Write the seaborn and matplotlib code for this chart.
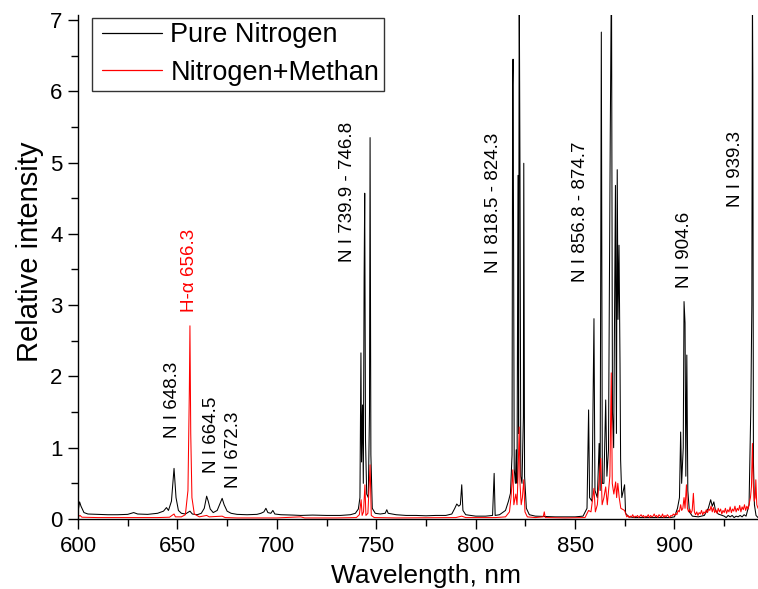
import matplotlib
matplotlib.use("Agg")
import matplotlib.pyplot as plt
from matplotlib.ticker import MultipleLocator
from matplotlib.lines import Line2D
from matplotlib.legend_handler import HandlerLine2D
import seaborn as sns
import pandas as pd

# Emission spectrum, pure nitrogen discharge (wavelength nm, relative intensity)
n2_wl = [
    600.0, 600.8, 601.5, 603.0, 605.0, 610.0, 615.0, 620.0, 625.0, 628.0, 630.0, 635.0,
    640.0, 643.0, 644.5, 645.5, 647.0, 648.3, 649.3, 650.5, 652.0, 654.0, 656.3, 657.5,
    660.0, 662.0, 663.5, 664.7, 665.5, 666.5, 668.0, 670.0, 671.5, 672.5, 673.5, 675.0,
    677.0, 680.0, 685.0, 690.0, 692.0, 693.5, 694.5, 695.5, 697.0, 698.0, 699.0, 702.0,
    708.0, 712.0, 718.0, 725.0, 732.0, 737.0, 739.5, 741.0, 741.8, 742.3, 742.6, 743.1,
    743.5, 743.9, 744.2, 744.6, 745.2, 746.0, 746.6, 746.9, 747.3, 748.0, 749.5, 752.0,
    754.5, 755.3, 756.0, 758.0, 760.0, 765.0, 770.0, 775.0, 780.0, 785.0, 788.0, 789.5,
    790.5, 791.5, 792.3, 793.0, 793.6, 795.0, 800.0, 805.0, 808.5, 809.3, 809.8, 812.0,
    815.0, 816.5, 817.5, 818.3, 818.6, 818.8, 819.4, 820.0, 820.4, 820.8, 821.3, 821.6,
    821.9, 822.3, 822.7, 823.3, 824.0, 824.2, 824.6, 825.5, 827.0, 830.0, 835.0, 840.0,
    845.0, 850.0, 854.0, 856.0, 856.8, 857.3, 858.5, 859.5, 860.0, 861.2, 862.1, 862.6,
    863.2, 863.7, 864.5, 865.4, 866.0, 866.8, 867.7, 868.3, 868.8, 869.4, 870.3, 870.8,
    871.2, 871.6, 872.1, 872.6, 872.9, 873.5, 874.9, 875.4, 877.0, 880.0, 890.0, 898.0,
    900.0, 901.5, 902.5, 903.1, 903.6, 904.4, 904.8, 905.3, 905.7, 906.2, 906.7, 907.5,
    909.0, 912.0, 915.0, 917.0, 918.2, 919.0, 919.8, 920.6, 922.0, 925.0, 926.0, 927.0,
    928.0, 929.0, 930.0, 931.0, 932.0, 933.0, 934.0, 935.0, 936.0, 937.5, 938.4, 938.9,
    939.2, 939.4, 939.7, 940.2, 941.0, 942.0,
]
n2_int = [
    0.10, 0.24, 0.18, 0.09, 0.07, 0.065, 0.06, 0.06, 0.065, 0.09, 0.07, 0.065,
    0.08, 0.11, 0.16, 0.12, 0.25, 0.71, 0.30, 0.12, 0.08, 0.07, 0.11, 0.07,
    0.06, 0.08, 0.15, 0.32, 0.25, 0.14, 0.09, 0.12, 0.22, 0.29, 0.20, 0.11,
    0.08, 0.065, 0.06, 0.065, 0.08, 0.10, 0.15, 0.09, 0.08, 0.12, 0.07, 0.06,
    0.055, 0.05, 0.055, 0.05, 0.05, 0.06, 0.08, 0.14, 0.30, 2.33, 0.80, 1.60,
    0.50, 3.38, 4.57, 1.10, 0.35, 0.30, 1.50, 5.35, 0.90, 0.15, 0.08, 0.07,
    0.08, 0.13, 0.08, 0.07, 0.06, 0.05, 0.05, 0.045, 0.05, 0.05, 0.07, 0.15,
    0.21, 0.18, 0.20, 0.48, 0.12, 0.06, 0.04, 0.04, 0.05, 0.64, 0.05, 0.06,
    0.12, 0.25, 0.36, 0.90, 6.09, 6.45, 0.70, 0.50, 0.97, 0.50, 4.82, 1.20,
    7.60, 4.87, 0.60, 0.50, 1.43, 4.99, 0.60, 0.15, 0.06, 0.04, 0.035, 0.03,
    0.03, 0.03, 0.04, 0.15, 1.53, 0.30, 0.25, 2.81, 0.40, 0.30, 1.06, 0.40,
    6.83, 0.50, 0.50, 1.67, 0.60, 0.97, 5.41, 7.80, 1.50, 1.00, 4.68, 1.20,
    4.90, 2.80, 3.84, 2.18, 0.83, 0.30, 0.48, 0.08, 0.03, 0.02, 0.02, 0.02,
    0.03, 0.15, 0.30, 1.22, 0.50, 1.00, 3.05, 2.75, 0.60, 2.30, 0.40, 0.10,
    0.04, 0.03, 0.05, 0.15, 0.27, 0.18, 0.24, 0.12, 0.07, 0.04, 0.02, 0.05,
    0.03, 0.05, 0.02, 0.04, 0.03, 0.05, 0.03, 0.06, 0.04, 0.20, 1.58, 3.00,
    7.40, 6.20, 0.80, 0.20, 0.05, 0.02,
]

# Emission spectrum, nitrogen + methane mixture
mix_wl = [
    600.0, 601.0, 602.0, 610.0, 620.0, 630.0, 640.0, 646.0, 648.3, 649.0, 652.0, 654.0,
    655.3, 656.0, 656.3, 656.7, 657.3, 658.5, 661.0, 664.7, 666.0, 672.5, 674.0, 680.0,
    700.0, 712.0, 714.0, 730.0, 740.0, 741.5, 742.4, 742.9, 743.6, 744.3, 744.8, 745.8,
    746.9, 747.5, 749.0, 760.0, 790.0, 793.0, 795.0, 810.0, 815.0, 817.0, 817.8, 818.7,
    819.2, 820.2, 820.8, 821.3, 821.9, 822.3, 822.9, 823.5, 824.2, 824.8, 826.0, 830.0,
    834.0, 834.5, 835.0, 845.0, 855.0, 856.8, 858.0, 859.5, 860.2, 861.2, 862.9, 863.6,
    864.5, 865.4, 866.2, 867.5, 868.2, 868.7, 869.5, 870.4, 870.9, 871.5, 872.2, 873.0,
    874.9, 876.0, 876.6, 877.2, 877.8, 878.4, 879.0, 879.6, 880.2, 880.8, 881.4, 882.0,
    882.6, 883.2, 883.8, 884.4, 885.0, 885.6, 886.2, 886.8, 887.4, 888.0, 888.6, 889.2,
    889.8, 890.4, 891.0, 891.6, 892.2, 892.8, 893.4, 894.0, 894.6, 895.2, 895.8, 896.4,
    897.0, 897.6, 898.2, 898.8, 899.4, 900.0, 900.6, 901.2, 901.8, 902.4, 903.1, 903.6,
    904.2, 904.8, 905.3, 906.0, 906.5, 907.1, 907.7, 908.3, 908.9, 909.5, 910.0, 910.6,
    911.2, 911.8, 912.4, 913.0, 913.6, 914.2, 914.8, 915.4, 916.0, 916.6, 917.2, 917.8,
    918.4, 919.0, 919.6, 920.2, 920.8, 921.4, 922.0, 922.6, 923.2, 923.8, 924.4, 925.0,
    925.6, 926.2, 926.8, 927.4, 928.0, 928.6, 929.2, 929.8, 930.4, 931.0, 931.6, 932.2,
    932.8, 933.4, 934.0, 934.6, 935.2, 935.8, 936.4, 937.0, 937.6, 938.2, 938.7, 939.2,
    939.6, 940.1, 940.6, 940.9, 941.4, 942.0,
]
mix_int = [
    0.03, 0.05, 0.025, 0.02, 0.02, 0.02, 0.02, 0.025, 0.07, 0.03, 0.03, 0.06,
    0.40, 1.80, 2.71, 1.20, 0.30, 0.07, 0.03, 0.05, 0.03, 0.04, 0.02, 0.015,
    0.015, 0.03, 0.015, 0.015, 0.02, 0.06, 0.27, 0.05, 0.10, 0.48, 0.05, 0.08,
    0.76, 0.05, 0.02, 0.015, 0.02, 0.04, 0.02, 0.02, 0.03, 0.10, 0.31, 0.69,
    0.20, 0.35, 0.20, 0.60, 1.29, 0.50, 0.20, 0.30, 0.55, 0.10, 0.03, 0.02,
    0.03, 0.10, 0.02, 0.015, 0.02, 0.12, 0.10, 0.43, 0.10, 0.20, 0.85, 0.20,
    0.30, 0.45, 0.20, 0.60, 2.05, 0.50, 0.35, 0.52, 0.30, 0.50, 0.30, 0.15,
    0.12, 0.03, 0.05, 0.02, 0.04, 0.03, 0.06, 0.02, 0.04, 0.03, 0.05, 0.02,
    0.04, 0.06, 0.03, 0.05, 0.02, 0.04, 0.03, 0.06, 0.02, 0.05, 0.03, 0.04,
    0.07, 0.03, 0.05, 0.02, 0.06, 0.04, 0.03, 0.07, 0.02, 0.05, 0.03, 0.06,
    0.04, 0.02, 0.05, 0.04, 0.07, 0.05, 0.08, 0.06, 0.12, 0.10, 0.20, 0.12,
    0.15, 0.30, 0.15, 0.48, 0.15, 0.10, 0.14, 0.08, 0.12, 0.36, 0.10, 0.06,
    0.10, 0.05, 0.09, 0.07, 0.12, 0.06, 0.10, 0.08, 0.13, 0.09, 0.14, 0.12,
    0.18, 0.10, 0.16, 0.09, 0.13, 0.08, 0.15, 0.10, 0.14, 0.07, 0.12, 0.09,
    0.15, 0.08, 0.13, 0.10, 0.17, 0.09, 0.14, 0.11, 0.18, 0.10, 0.15, 0.12,
    0.19, 0.10, 0.17, 0.13, 0.20, 0.12, 0.18, 0.14, 0.22, 0.30, 0.45, 1.06,
    0.50, 0.25, 0.30, 0.55, 0.20, 0.15,
]

series_names = ["Pure Nitrogen", "Nitrogen+Methan"]
series_colors = ["#000000", "#ff0000"]

# Line identifications: label text, wavelength, intensity at the label foot, colour
line_labels = ["N I 648.3", "H-\u03b1 656.3", "N I 664.5", "N I 672.3",
               "N I 739.9 - 746.8", "N I 818.5 - 824.3", "N I 856.8 - 874.7",
               "N I 904.6", "N I 939.3"]
label_wl = [647.7, 656.3, 667.3, 678.2, 735.3, 809.1, 852.8, 904.8, 930.8]
label_y = [1.13, 2.90, 0.64, 0.43, 3.61, 3.45, 3.33, 3.24, 4.38]
label_colors = ["black", "#ff0000", "black", "black", "black", "black",
                "black", "black", "black"]

df = pd.concat([
    pd.DataFrame({"wl": n2_wl, "I": n2_int, "gas": series_names[0]}),
    pd.DataFrame({"wl": mix_wl, "I": mix_int, "gas": series_names[1]}),
], ignore_index=True)

sns.set_theme(style="ticks")
plt.rcParams["font.family"] = ["Liberation Sans", "DejaVu Sans"]
plt.rcParams["axes.linewidth"] = 1.0
plt.rcParams["text.color"] = "black"
plt.rcParams["axes.labelcolor"] = "black"
plt.rcParams["xtick.color"] = "black"
plt.rcParams["ytick.color"] = "black"
plt.rcParams["axes.edgecolor"] = "black"

fig = plt.figure(figsize=(7.58, 5.89), dpi=100)
ax = fig.add_axes([78 / 758, 70 / 589, 680 / 758, 504 / 589])

sns.lineplot(data=df, x="wl", y="I", hue="gas", hue_order=series_names,
             palette=series_colors, estimator=None, sort=False,
             linewidth=0.75, ax=ax)

for txt, xw, yv, c in zip(line_labels, label_wl, label_y, label_colors):
    ax.text(xw, yv, txt, rotation=90, ha="center", va="bottom",
            fontsize=13.5, color=c)

ax.set_xlim(600, 942)
ax.set_ylim(0, 7.07)
ax.xaxis.set_major_locator(MultipleLocator(50))
ax.xaxis.set_minor_locator(MultipleLocator(25))
ax.yaxis.set_major_locator(MultipleLocator(1))
ax.yaxis.set_minor_locator(MultipleLocator(0.5))
ax.tick_params(axis="both", which="major", direction="out", length=7,
               width=1.0, labelsize=16, color="black", labelcolor="black")
ax.tick_params(axis="both", which="minor", direction="out", length=5,
               width=1.0, color="black")
ax.tick_params(axis="x", which="major", pad=5)
ax.tick_params(axis="y", which="major", pad=4)
for s in ("top", "right"):
    ax.spines[s].set_visible(False)

ax.set_xlabel("Wavelength, nm", fontsize=19)
ax.set_ylabel("Relative intensity", fontsize=21)
ax.xaxis.set_label_coords(0.512, -0.089)
ax.yaxis.set_label_coords(-0.05, 0.53)

handles, labels = ax.get_legend_handles_labels()
leg = ax.legend(handles, labels, loc="upper left", bbox_to_anchor=(0.02, 0.995),
                borderaxespad=0, frameon=True, fancybox=False, fontsize=19.5,
                handlelength=2.43, handletextpad=0.3, labelspacing=0.42,
                borderpad=0.18,
                handler_map={Line2D: HandlerLine2D(xpad=0.22)})
leg.get_frame().set_edgecolor("black")
leg.get_frame().set_linewidth(1.0)
for h in leg.get_lines():
    h.set_linewidth(0.9)

fig.savefig("out.png", dpi=100, facecolor="white")
